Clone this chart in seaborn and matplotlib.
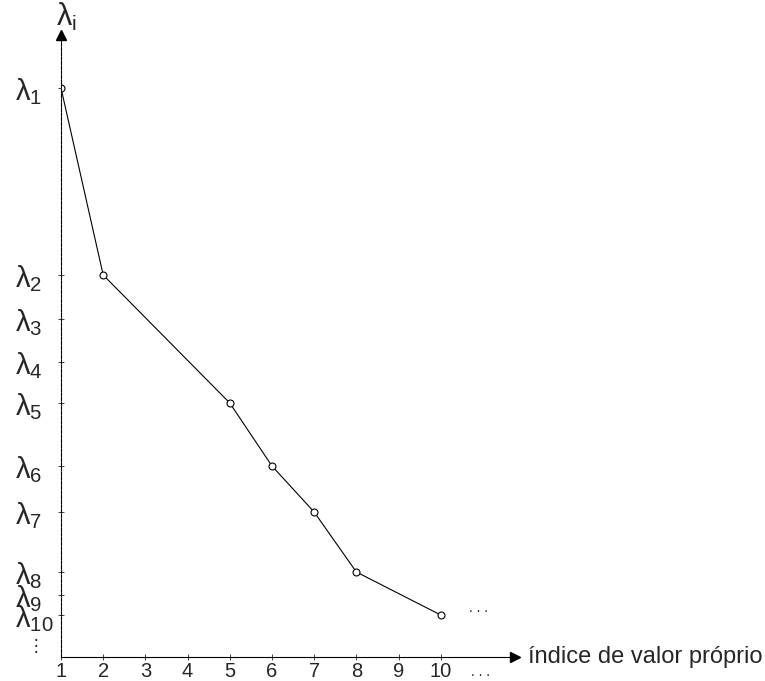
import numpy as np
import matplotlib
matplotlib.use('Agg')
import matplotlib.pyplot as plt
import seaborn as sns

# eigenvalue positions (arbitrary units)
lam_vals = [5.69, 3.82, 3.38, 2.95, 2.54, 1.91, 1.45, 0.85, 0.62, 0.42]
lam_labels = [r'$\lambda_{%d}$' % i for i in range(1, 11)]

# plotted points: index -> eigenvalue number
pt_index = [1, 2, 5, 6, 7, 8, 10]
pt_vals = [lam_vals[i - 1] for i in pt_index]

x_ticks = list(range(1, 11))

sns.set_style('white')
plt.rcParams['font.family'] = ['Liberation Sans', 'DejaVu Sans']
plt.rcParams['mathtext.default'] = 'regular'

fig = plt.figure(figsize=(7.65, 6.81), dpi=100)
ax = fig.add_axes([61 / 765, 24 / 681, (515 - 61) / 765, (657 - 35) / 681])

sns.lineplot(x=pt_index, y=pt_vals, ax=ax, color='black', linewidth=0.8,
             marker='o', markersize=5, markerfacecolor='white',
             markeredgecolor='black', markeredgewidth=0.8)

ax.set_xlim(1, 11.76)
ax.set_ylim(0, 6.22)

for s in ['top', 'right']:
    ax.spines[s].set_visible(False)
ax.spines['left'].set_linestyle((0, (3, 1.2)))
ax.spines['left'].set_linewidth(0.8)
ax.spines['bottom'].set_linewidth(0.8)
ax.spines['left'].set_color('black')
ax.spines['bottom'].set_color('black')

# arrow heads
ax.plot(1, 0, '>k', markersize=7, transform=ax.transAxes, clip_on=False)
ax.plot(0, 1, '^k', markersize=7, transform=ax.transAxes, clip_on=False)

ax.set_xticks(x_ticks)
ax.set_xticklabels([str(t) for t in x_ticks], fontsize=14.5)
ax.set_yticks(lam_vals)
ax.set_yticklabels(lam_labels, fontsize=21)
for lab in ax.get_yticklabels():
    lab.set_horizontalalignment('left')
ax.tick_params(axis='x', direction='inout', length=4, width=0.6, pad=1.5, bottom=True)
ax.tick_params(axis='y', direction='inout', length=4, width=0.6, pad=31, left=True)

ax.set_xlabel('')
ax.set_ylabel('')

# axis labels and ellipses
fig.text(528 / 765, 24 / 681, 'índice de valor próprio', fontsize=17,
         ha='left', va='center')
fig.text(66 / 765, 1 - 17 / 681, r'$\lambda_{i}$', fontsize=22, ha='center', va='center')
ax.text(10.9, lam_vals[9], '. . .', fontsize=10, ha='center', va='bottom')
ax.text(10.95, -0.15, '. . .', fontsize=10, ha='center', va='center', clip_on=False)
fig.text(36 / 765, 1 - 646 / 681, '\u22ee', fontsize=12, ha='center', va='center',
         family='DejaVu Sans')

fig.savefig('out.png', dpi=100)
